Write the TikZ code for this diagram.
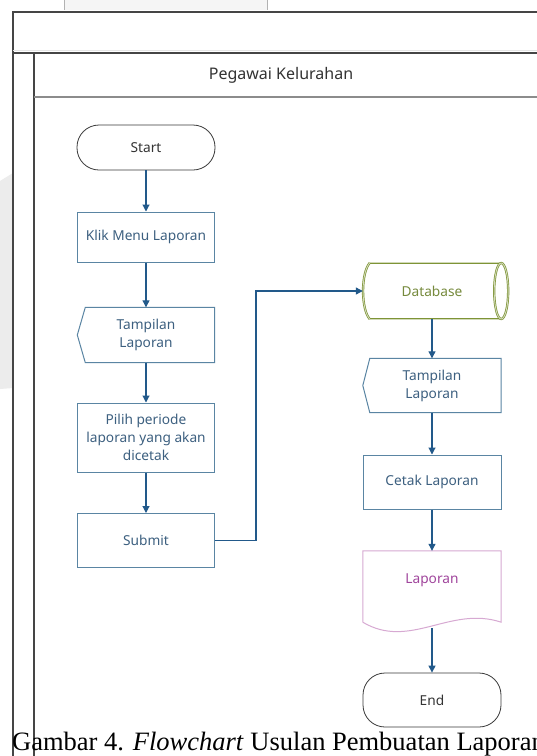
\documentclass[tikz,border=0pt]{standalone}
\usepackage{fontspec}
\setmainfont{Liberation Serif}
\newfontfamily\uifont{Noto Sans}
\usetikzlibrary{arrows.meta,calc}

\definecolor{framegray}{HTML}{454545}
\definecolor{lanegray}{HTML}{8C8C8C}
\definecolor{boxblue}{HTML}{5A85A3}
\definecolor{txtblue}{HTML}{3D6080}
\definecolor{flowblue}{HTML}{22598A}
\definecolor{termgray}{HTML}{3A3A3A}
\definecolor{dbgreen}{HTML}{7E9436}
\definecolor{dbtext}{HTML}{768A3C}
\definecolor{docpink}{HTML}{D7A9D2}
\definecolor{doctext}{HTML}{A0459C}

\begin{document}
\begin{tikzpicture}[x=1pt,y=-1pt,
  uitext/.style={font=\uifont\fontsize{13.7}{18}\selectfont, align=center},
  term/.style={uitext, draw=termgray, line width=0.8pt, text=termgray!90!black,
    rounded corners=22pt, minimum width=138pt, minimum height=54pt, inner sep=0pt},
  procbox/.style={uitext, draw=boxblue, line width=1pt, text=txtblue,
    minimum width=137pt, inner sep=0pt},
  dispbox/.style={uitext, text=txtblue, minimum width=137pt, inner sep=0pt},
  displine/.style={draw=boxblue, line width=1pt},
  dbline/.style={draw=dbgreen, line width=0.7pt, double=dbgreen!35, double distance=0.9pt},
  flow/.style={draw=flowblue, line width=1.1pt, -{Triangle[length=7pt,width=7pt]}},
  frameline/.style={draw=framegray, line width=1.4pt},
]
\useasboundingbox (0,0) rectangle (537,756);
\fill[white] (0,0) rectangle (537,756);

% faint shapes at the page edges
\fill[gray!8] (64,-2) rectangle (267,10);
\draw[gray!60, line width=0.8pt] (64,-2) -- (64,10) (267,-2) -- (267,10);
\fill[gray!15] (0,181) -- (13,173) -- (13,388) -- (0,389) -- cycle;

% swimlane frame
\draw[frameline] (13,762) -- (13,12) -- (545,12);
\draw[frameline] (13,53) -- (545,53);
\draw[gray!20, line width=0.8pt] (13,50) -- (545,50);
\draw[frameline] (34,53) -- (34,762);
\draw[lanegray, line width=1.6pt] (34,97) -- (545,97);
\node[font=\uifont\fontsize{16}{18}\selectfont, text=black!80] (lane) at (281,75) {Pegawai Kelurahan};

% left column
\node[term, minimum height=45pt] (start) at (146,147.5) {Start};
\node[procbox, minimum height=50pt] (klik) at (146,237) {Klik Menu Laporan};
\node[dispbox, minimum height=55pt] (disp1) at (146,335) {Tampilan\\Laporan};
\draw[displine] ($(disp1.north west)+(8,0)$) -- (disp1.north east) -- (disp1.south east)
  -- ($(disp1.south west)+(8,0)$) -- (disp1.west) -- cycle;
\node[procbox, minimum height=69pt] (pilih) at (146,437.5) {Pilih periode\\laporan yang akan\\dicetak};
\node[procbox, minimum height=54pt] (submit) at (146,540.5) {Submit};

% right column
\node[uitext, text=dbtext, minimum width=138pt, minimum height=56pt, inner sep=0pt] (db) at (432,291) {Database};
\draw[dbline] ($(db.north west)+(7,0)$) -- (db.north east);
\draw[dbline] ($(db.south west)+(7,0)$) -- (db.south east);
\draw[dbline] ($(db.north west)+(7,0)$) .. controls ($(db.north west)+(-2,10)$)
  and ($(db.south west)+(-2,-10)$) .. ($(db.south west)+(7,0)$);
\draw[dbline] (db.east) ellipse [x radius=7pt, y radius=28pt];

\node[dispbox, minimum width=138pt, minimum height=54pt] (disp2) at (432,385.5) {Tampilan\\Laporan};
\draw[displine] ($(disp2.north west)+(7,0)$) -- (disp2.north east) -- (disp2.south east)
  -- ($(disp2.south west)+(7,0)$) -- (disp2.west) -- cycle;
\node[procbox, minimum width=138pt, minimum height=54pt] (cetak) at (432,482) {Cetak Laporan};

\node[uitext, text=doctext, minimum width=138pt, minimum height=58pt, inner sep=0pt] (doc) at (432,580) {Laporan};
\draw[draw=docpink, line width=1pt] ($(doc.south west)+(0,13)$) -- (doc.north west) -- (doc.north east)
  -- ($(doc.south east)+(0,13)$)
  .. controls ($(doc.south east)+(-51,-4)$) and ($(doc.south west)+(47,41)$) .. ($(doc.south west)+(0,13)$);
\coordinate (docwave) at ($(doc.south)+(0,19)$);

\node[term] (end) at (432,700) {End};

% connectors
\draw[flow] (start.south) -- (klik.north);
\draw[flow] (klik.south) -- (disp1.north);
\draw[flow] (disp1.south) -- (pilih.north);
\draw[flow] (pilih.south) -- (submit.north);
\draw[flow] (submit.east) -- ++(41,0) |- (db.west);
\draw[flow] (db.south) -- (disp2.north);
\draw[flow] (disp2.south) -- (cetak.north);
\draw[flow] (cetak.south) -- (doc.north);
\draw[flow] (docwave) -- (end.north);

% caption
\node[anchor=base west, inner sep=0pt, font=\fontsize{26.5}{30}\selectfont] (caption) at (12,750)
  {Gambar 4. \textit{Flowchart} Usulan Pembuatan Laporan};
\end{tikzpicture}
\end{document}
